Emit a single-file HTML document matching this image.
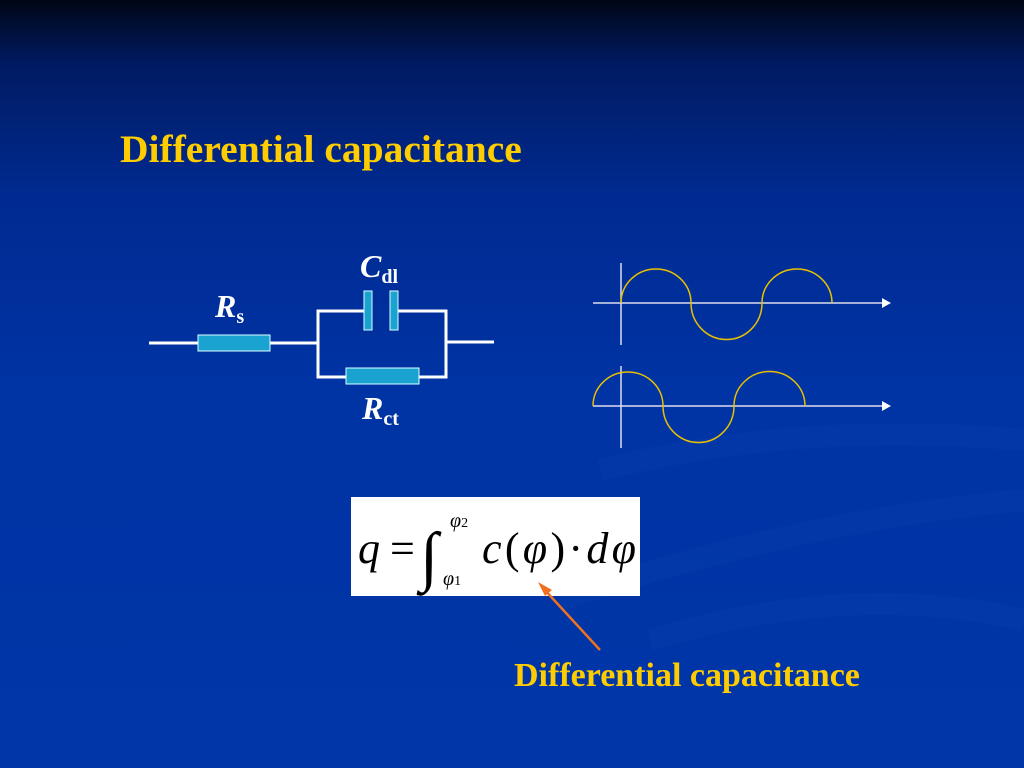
<!DOCTYPE html>
<html><head><style>
body{margin:0;width:1024px;height:768px;overflow:hidden;background:linear-gradient(180deg,#000615 0%,#001a60 8%,#002a90 25%,#0033a4 50%,#0036a8 100%);position:relative;font-family:"Liberation Serif",serif}
.t{position:absolute;color:#ffcc00;font-weight:bold;font-size:39.5px;white-space:nowrap}
.l{position:absolute;color:#fff;font-weight:bold;font-style:italic;font-size:32px}
.l sub{font-style:normal;font-size:20px;vertical-align:-6px}
</style></head><body>
<div class="t" style="left:120px;top:126px">Differential capacitance</div>
<div class="t" style="left:514px;top:657px;font-size:34px">Differential capacitance</div>
<svg width="1024" height="768" style="position:absolute;left:0;top:0">
<g fill="none" stroke="#1a4db8" stroke-width="22" opacity=".15">
<path d="M600 470 Q800 420 1024 440"/><path d="M560 600 Q800 520 1024 500"/><path d="M650 640 Q850 580 1024 620"/>
</g>
<g stroke="#fff" stroke-width="3" fill="none">
<path d="M149 343H198M270 343H318"/>
<path d="M364 311H318V377H346M419 377H446V311H398M446 342H494"/>
</g>
<g fill="#1aa3d0" stroke="#dff" stroke-width="1">
<rect x="198" y="335" width="72" height="16"/>
<rect x="346" y="368" width="73" height="16"/>
<rect x="364" y="291" width="8" height="39"/>
<rect x="390" y="291" width="8" height="39"/>
</g>
<g stroke="#dde" stroke-width="1.5" fill="none">
<path d="M593 303H882M621 263V345M593 406H882M621 366V448"/>
</g>
<path d="M882 298L891 303L882 308Z M882 401L891 406L882 411Z" fill="#fff"/>
<g stroke="#e8c000" stroke-width="1.5" fill="none">
<path d="M621 303A35 34 0 0 1 691 303A35 36 0 0 0 762 303A35 34 0 0 1 832 303"/>
<path d="M593 406A35 34 0 0 1 663 406A35 36 0 0 0 734 406A35 34 0 0 1 805 406"/>
</g>
<rect x="351" y="497" width="289" height="99" fill="#fff"/>
<text x="358" y="563" font-family="Liberation Serif" font-style="italic" font-size="44">q</text>
<text x="390" y="563" font-family="Liberation Serif" font-size="44">=</text>
<text x="420" y="578" font-family="Liberation Serif" font-size="66">∫</text>
<text x="450" y="527" font-family="Liberation Serif" font-style="italic" font-size="20">φ<tspan font-style="normal" font-size="14">2</tspan></text>
<text x="443" y="585" font-family="Liberation Serif" font-style="italic" font-size="20">φ<tspan font-style="normal" font-size="14">1</tspan></text>
<text x="482" y="563" font-family="Liberation Serif" font-style="italic" font-size="44" textLength="154" lengthAdjust="spacing">c<tspan font-style="normal">(</tspan>φ<tspan font-style="normal">)·</tspan>dφ</text>
<path d="M600 650L543 588" stroke="#f07020" stroke-width="2.5"/>
<path d="M538 582L552 590L545 596Z" fill="#f07020"/>
</svg>
<div class="l" style="left:215px;top:288px">R<sub>s</sub></div>
<div class="l" style="left:360px;top:248px">C<sub>dl</sub></div>
<div class="l" style="left:362px;top:390px">R<sub>ct</sub></div>
</body></html>
